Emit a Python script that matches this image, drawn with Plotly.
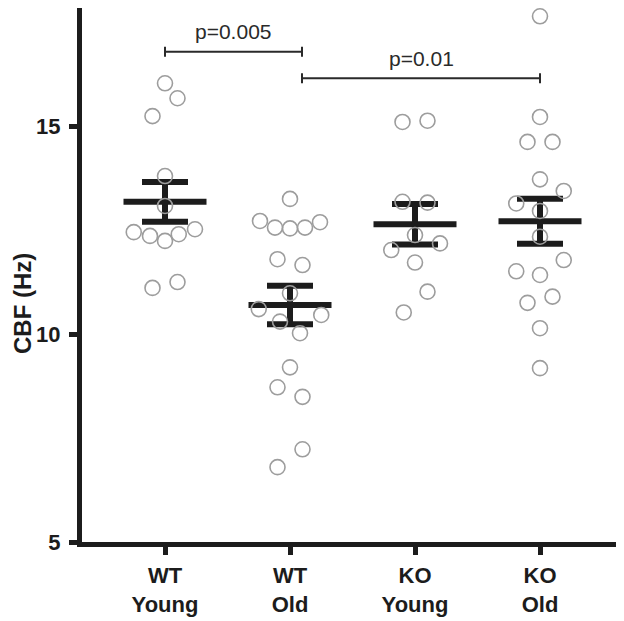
import numpy as np
import plotly.graph_objects as go

categories = ["WT<br>Young", "WT<br>Old", "KO<br>Young", "KO<br>Old"]

wt_young = [16.03, 15.67, 15.24, 13.80, 13.08, 12.45, 12.36, 12.24, 12.40, 12.52, 11.11, 11.25]
wt_young_dx = [0, 0.10, -0.10, 0, 0, -0.25, -0.12, 0, 0.11, 0.24, -0.10, 0.10]

wt_old = [13.25, 12.72, 12.56, 12.54, 12.56, 12.69, 11.80, 11.66, 10.98, 10.60, 10.30, 10.46,
          10.02, 9.20, 8.72, 8.49, 7.23, 6.80]
wt_old_dx = [0, -0.24, -0.12, 0, 0.12, 0.24, -0.10, 0.10, 0, -0.25, -0.08, 0.25,
             0.08, 0, -0.10, 0.10, 0.10, -0.10]

ko_young = [15.10, 15.13, 13.18, 13.16, 12.38, 12.02, 12.18, 11.72, 11.02, 10.52]
ko_young_dx = [-0.10, 0.10, -0.10, 0.10, 0, -0.19, 0.20, 0, 0.10, -0.09]

ko_old = [17.64, 15.22, 14.62, 14.62, 13.72, 13.44, 13.14, 12.96, 12.34, 11.78, 11.51, 11.42,
          10.75, 10.90, 10.14, 9.18]
ko_old_dx = [0, 0, -0.10, 0.10, 0, 0.19, -0.19, 0, 0, 0.19, -0.19, 0, -0.10, 0.10, 0, 0]

groups = [wt_young, wt_old, ko_young, ko_old]
offsets = [wt_young_dx, wt_old_dx, ko_young_dx, ko_old_dx]

# significance brackets: (x start, x end, y level, label)
brackets = [(0, 1.096, 16.79, "p=0.005"), (1.096, 3, 16.15, "p=0.01")]

y_ticks = [5, 10, 15]

FONT = "Arial, Liberation Sans, sans-serif"
BAR = "#1c1c1c"
PT = "#9d9d9d"

fig = go.Figure()

# mean +/- SEM bars
mean_half = 0.332
cap_half = 0.184
for i, vals in enumerate(groups):
    v = np.array(vals)
    m = v.mean()
    sem = v.std(ddof=1) / np.sqrt(len(v))
    xs = [i - mean_half, i + mean_half, None,
          i - cap_half, i + cap_half, None,
          i - cap_half, i + cap_half, None,
          i, i]
    ys = [m, m, None,
          m + sem, m + sem, None,
          m - sem, m - sem, None,
          m + sem, m - sem]
    fig.add_trace(go.Scatter(x=xs, y=ys, mode="lines",
                             line=dict(color=BAR, width=6),
                             hoverinfo="skip", showlegend=False))

# individual points
for i, (vals, dx) in enumerate(zip(groups, offsets)):
    fig.add_trace(go.Scatter(
        x=[i + d for d in dx], y=vals, mode="markers",
        marker=dict(symbol="circle-open", size=15, color=PT,
                    line=dict(color=PT, width=1.6)),
        showlegend=False))

# brackets
tick_h = 0.12
for x0, x1, yb, label in brackets:
    fig.add_trace(go.Scatter(
        x=[x0, x1, None, x0, x0, None, x1, x1],
        y=[yb, yb, None, yb - tick_h, yb + tick_h, None, yb - tick_h, yb + tick_h],
        mode="lines", line=dict(color="#2a2a2a", width=2),
        hoverinfo="skip", showlegend=False))
    fig.add_annotation(x=(x0 + x1) / 2, y=yb + 0.48, text=label, showarrow=False,
                       xanchor="center", yanchor="middle",
                       font=dict(family=FONT, size=21, color="#2a2a2a"))

# y axis title
fig.add_annotation(xref="paper", yref="paper", x=-0.1089, y=0.4476, text="CBF (Hz)",
                   textangle=-90, showarrow=False, xanchor="center", yanchor="middle",
                   font=dict(family=FONT, size=24, color="#1c1c1c", weight="bold"))

fig.update_layout(
    width=616, height=613,
    margin=dict(l=74, r=0, t=0, b=79),
    paper_bgcolor="white", plot_bgcolor="white",
    xaxis=dict(range=[-0.664, 3.672], tickvals=[0, 1, 2, 3], ticktext=categories,
               showline=True, linewidth=5, linecolor=BAR,
               ticks="outside", ticklen=8, tickwidth=5, tickcolor=BAR,
               showgrid=False, zeroline=False, ticklabelstandoff=2,
               tickfont=dict(family=FONT, size=22, color="#1c1c1c", weight="bold")),
    yaxis=dict(range=[5, 17.84], tickvals=y_ticks,
               showline=True, linewidth=5, linecolor=BAR,
               ticks="outside", ticklen=8, tickwidth=5, tickcolor=BAR,
               showgrid=False, zeroline=False, ticklabelstandoff=4,
               tickfont=dict(family=FONT, size=22, color="#1c1c1c", weight="bold")),
)

fig.write_html("out.html")
